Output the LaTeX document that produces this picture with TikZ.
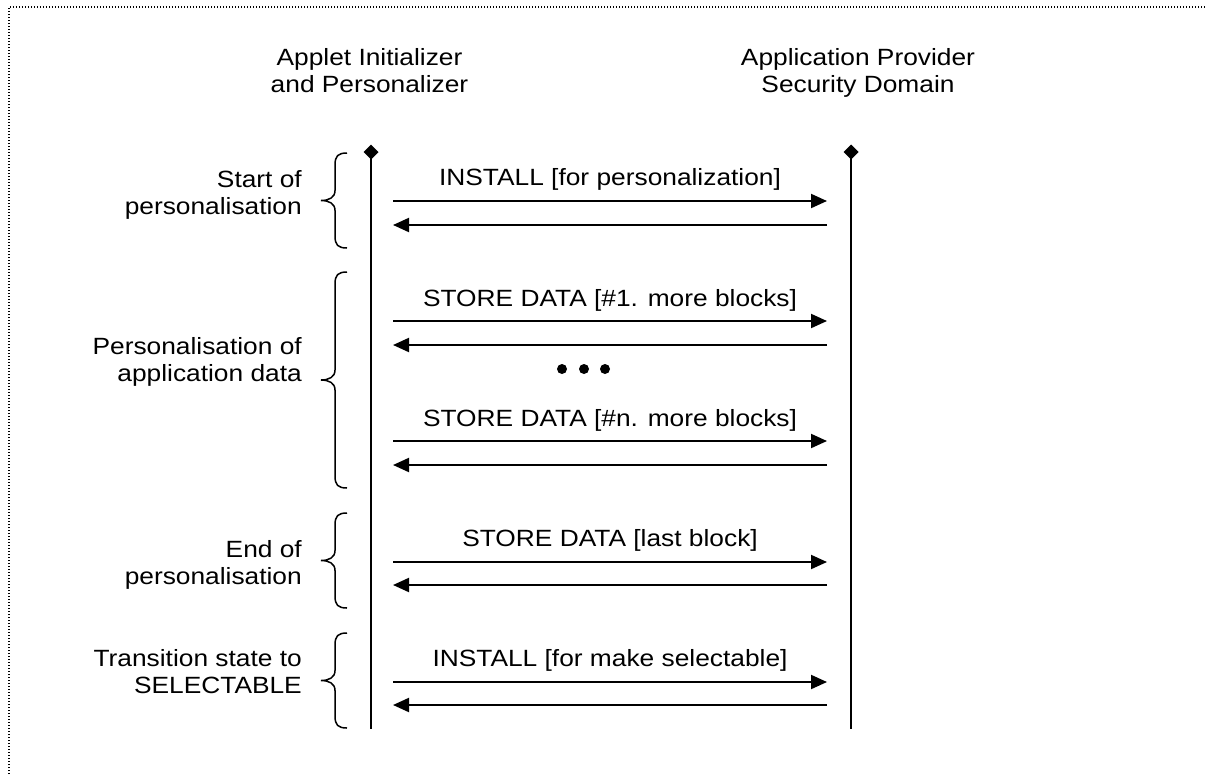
\documentclass[tikz,border=0pt]{standalone}
\usepackage{fontspec}
\setmainfont{Liberation Sans}[FakeStretch=1.12]
\usetikzlibrary{arrows.meta}
\newcommand\sidebrace[2]{%
  \pgfmathsetmacro\bmid{(#1+#2)/2}%
  \draw[bracestyle] (347,#1) .. controls (338,#1) and (335,{#1+3}) .. (335,{#1+12})
    -- (335,{\bmid-10}) .. controls (335,{\bmid-3}) and (329,\bmid) .. (321,\bmid)
    .. controls (329,\bmid) and (335,{\bmid+3}) .. (335,{\bmid+10})
    -- (335,{#2-12}) .. controls (335,{#2-3}) and (338,#2) .. (347,#2);}
\begin{document}
\begin{tikzpicture}[x=1pt,y=-1pt,
  txt/.style={font=\fontsize{23.5}{27}\selectfont, inner sep=0pt},
  lifeline/.style={line width=2pt},
  msg/.style={line width=2pt,-{Triangle[length=16pt,width=14pt]}},
  bracestyle/.style={line width=1.5pt},
  headmark/.style={fill=black, inner sep=0pt, minimum size=10.6pt, rotate=45},
  frame/.style={line width=1.2pt, dash pattern=on 1.2pt off 1.8pt},
  dot/.style={circle, fill=black, inner sep=0pt, minimum size=10pt}]
\useasboundingbox (0,0) rectangle (1206,774);
% frame
\draw[frame] (9,774) -- (9,7) -- (1206,7);
% headers
\node[txt, align=center, anchor=base] (hA) at (369.5,92) {Applet Initializer\\and Personalizer};
\node[txt, align=center, anchor=base] (hB) at (858,92) {Application Provider\\Security Domain};
% lifelines
\node[headmark] (dA) at (371,152) {};
\node[headmark] (dB) at (851,152) {};
\coordinate (eA) at (371,729);
\coordinate (eB) at (851,729);
\draw[lifeline] (dA.center) -- (eA);
\draw[lifeline] (dB.center) -- (eB);
% message endpoints
\foreach \n/\yr/\yl in {1/201/225, 2/321/345, 3/441/465, 4/562/585, 5/682/705}{
  \coordinate (r\n a) at (393,\yr);
  \coordinate (r\n b) at (827,\yr);
  \coordinate (l\n a) at (827,\yl);
  \coordinate (l\n b) at (393,\yl);
}
\foreach \n in {1,...,5}{
  \draw[msg] (r\n a) -- (r\n b);
  \draw[msg] (l\n a) -- (l\n b);
}
% message labels
\node[txt, anchor=base] (m1) at (610,185) {INSTALL [for personalization]};
\node[txt, anchor=base] (m2) at (610,306) {STORE DATA [\#1. more blocks]};
\node[txt, anchor=base] (m3) at (610,426) {STORE DATA [\#n. more blocks]};
\node[txt, anchor=base] (m4) at (610,546) {STORE DATA [last block]};
\node[txt, anchor=base] (m5) at (610,666) {INSTALL [for make selectable]};
% ellipsis dots
\node[dot] (d1) at (562,369) {};
\node[dot] (d2) at (584,369) {};
\node[dot] (d3) at (605,369) {};
% phase labels
\node[txt, align=right, anchor=base east] (p1) at (302,214) {Start of\\personalisation};
\node[txt, align=right, anchor=base east] (p2) at (302,381) {Personalisation of\\application data};
\node[txt, align=right, anchor=base east] (p3) at (302,584) {End of\\personalisation};
\node[txt, align=right, anchor=base east] (p4) at (302,693) {Transition state to\\SELECTABLE};
% braces
\sidebrace{153}{248}
\sidebrace{272}{488}
\sidebrace{513}{608}
\sidebrace{633}{728}
\end{tikzpicture}
\end{document}
